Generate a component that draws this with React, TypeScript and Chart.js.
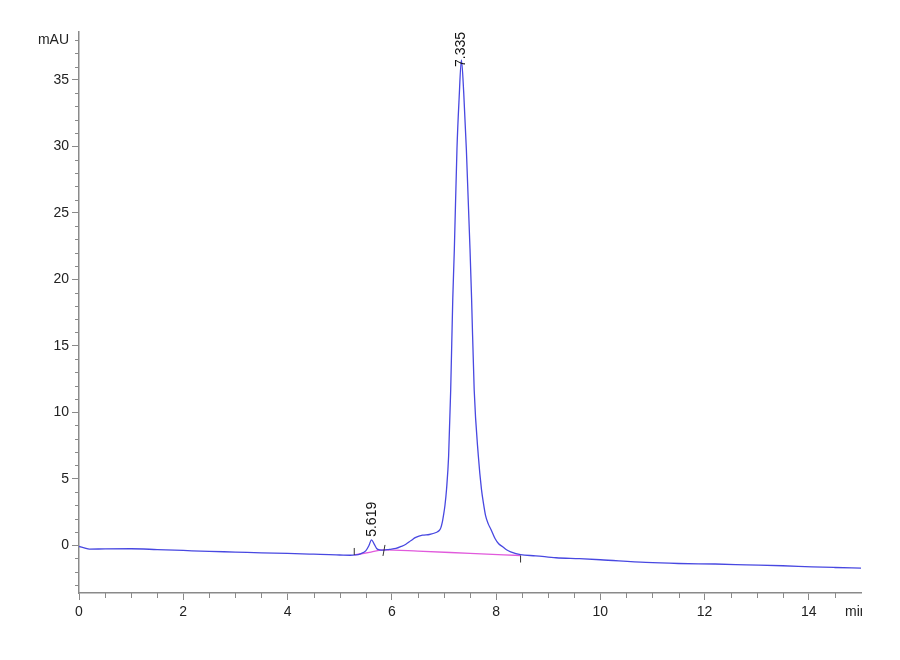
import React, { useEffect, useRef } from "react";
import { Chart, registerables } from "chart.js";

Chart.register(...registerables);

// chromatogram trace (min, mAU)
const traceTimes = [
  0, 0.1, 0.2, 0.5, 1.0, 1.5, 2.0, 2.5, 3.0, 3.5, 4.0, 4.5, 4.8, 5.0, 5.2, 5.3,
  5.4, 5.5, 5.56, 5.61, 5.66, 5.71, 5.76, 5.85, 5.95, 6.08, 6.18, 6.27, 6.37,
  6.46, 6.59, 6.72, 6.85, 6.91, 6.94, 6.97, 6.99, 7.02, 7.05, 7.09, 7.13, 7.17,
  7.2, 7.25, 7.29, 7.335, 7.38, 7.43, 7.5, 7.53, 7.58, 7.66, 7.72, 7.76, 7.8,
  7.85, 7.9, 7.98, 8.05, 8.12, 8.2, 8.28, 8.47, 8.76, 9.15, 9.6, 10.0, 10.87,
  11.5, 12.2, 12.8, 13.5, 14.06, 14.5, 15.0,
];
const traceValues = [
  -0.1, -0.2, -0.3, -0.28, -0.27, -0.33, -0.4, -0.47, -0.52, -0.58, -0.62,
  -0.68, -0.72, -0.74, -0.76, -0.74, -0.65, -0.43, -0.05, 0.4, 0.1, -0.25,
  -0.35, -0.38, -0.32, -0.25, -0.1, 0.07, 0.35, 0.58, 0.75, 0.8, 0.95, 1.1,
  1.3, 1.75, 2.2, 3.0, 4.2, 6.7, 11.7, 18.6, 22.3, 29.8, 33.5, 36.5, 34.0,
  29.8, 22.3, 18.6, 11.7, 6.7, 4.2, 3.1, 2.2, 1.6, 1.2, 0.5, 0.1, -0.1, -0.35,
  -0.5, -0.72, -0.8, -0.95, -1.02, -1.1, -1.3, -1.38, -1.42, -1.48, -1.55,
  -1.63, -1.68, -1.73,
];

// integration baseline
const baseTimes = [5.28, 5.6, 5.85, 6.5, 7.5, 8.47];
const baseValues = [-0.74, -0.52, -0.36, -0.45, -0.62, -0.78];

// peak labels
const peakTimes = [5.619, 7.335];
const peakLabels = ["5.619", "7.335"];

// integration event marks
const markTimes = [5.28, 5.85, 8.47];

const xTicks = [
  0, 0.5, 1, 1.5, 2, 2.5, 3, 3.5, 4, 4.5, 5, 5.5, 6, 6.5, 7, 7.5, 8, 8.5, 9,
  9.5, 10, 10.5, 11, 11.5, 12, 12.5, 13, 13.5, 14, 14.5,
];
const xLabelTicks = [0, 2, 4, 6, 8, 10, 12, 14];
const yTicks = [
  -3, -2, -1, 0, 1, 2, 3, 4, 5, 6, 7, 8, 9, 10, 11, 12, 13, 14, 15, 16, 17, 18,
  19, 20, 21, 22, 23, 24, 25, 26, 27, 28, 29, 30, 31, 32, 33, 34, 35, 36, 37,
  38,
];
const yLabelTicks = [0, 5, 10, 15, 20, 25, 30, 35];
const yUnitTick = 38;

const FONT = "'Liberation Sans', Arial, sans-serif";
const AXIS = "#8a8a8a";

const interpBase = (t: number) => {
  for (let i = 0; i < baseTimes.length - 1; i++) {
    if (t >= baseTimes[i] && t <= baseTimes[i + 1]) {
      const f = (t - baseTimes[i]) / (baseTimes[i + 1] - baseTimes[i]);
      return baseValues[i] + f * (baseValues[i + 1] - baseValues[i]);
    }
  }
  return baseValues[baseValues.length - 1];
};

// short ticks for the unlabelled positions
const minorTicks = {
  id: "minorTicks",
  afterDraw(chart: any) {
    const { ctx, scales } = chart;
    const xs = scales.x;
    const ys = scales.y;
    ctx.save();
    ctx.strokeStyle = AXIS;
    ctx.lineWidth = 1;
    xTicks
      .filter((v) => !xLabelTicks.includes(v))
      .forEach((v) => {
        const px = Math.round(xs.getPixelForValue(v)) + 0.5;
        ctx.beginPath();
        ctx.moveTo(px, xs.top);
        ctx.lineTo(px, xs.top + 5);
        ctx.stroke();
      });
    yTicks
      .filter((v) => !yLabelTicks.includes(v))
      .forEach((v) => {
        const py = Math.round(ys.getPixelForValue(v)) + 0.5;
        ctx.beginPath();
        ctx.moveTo(ys.right - 4, py);
        ctx.lineTo(ys.right, py);
        ctx.stroke();
      });
    ctx.restore();
  },
};

const annotate = {
  id: "annotate",
  afterDatasetsDraw(chart: any) {
    const { ctx, scales, chartArea } = chart;
    const xs = scales.x;
    const ys = scales.y;
    ctx.save();
    ctx.fillStyle = "#111";
    ctx.font = `14px ${FONT}`;

    // rotated retention times
    const gaps = [3, -7];
    peakTimes.forEach((t, i) => {
      let apex = -Infinity;
      traceTimes.forEach((tt, j) => {
        if (Math.abs(tt - t) < 0.06) apex = Math.max(apex, traceValues[j]);
      });
      const px = xs.getPixelForValue(t);
      const py = ys.getPixelForValue(apex) - gaps[i];
      ctx.save();
      ctx.translate(px, py);
      ctx.rotate(-Math.PI / 2);
      ctx.textAlign = "left";
      ctx.textBaseline = "middle";
      ctx.fillText(peakLabels[i], 0, 0);
      ctx.restore();
    });

    // event marks
    ctx.strokeStyle = "#333";
    ctx.lineWidth = 1;
    const spans = [
      [-7, 0],
      [-5, 6],
      [0, 7],
    ];
    markTimes.forEach((t, i) => {
      const px = xs.getPixelForValue(t);
      const py = ys.getPixelForValue(interpBase(t));
      ctx.beginPath();
      ctx.moveTo(px + (i === 1 ? 1 : 0), py + spans[i][0]);
      ctx.lineTo(px - (i === 1 ? 1 : 0), py + spans[i][1]);
      ctx.stroke();
    });

    // unit on x axis, cut at the axis end
    ctx.beginPath();
    ctx.rect(0, 0, chartArea.right + 1, chart.height);
    ctx.clip();
    ctx.fillStyle = "#222";
    ctx.textAlign = "left";
    ctx.textBaseline = "top";
    ctx.fillText("min", chartArea.right - 16, chartArea.bottom + 12);
    ctx.restore();
  },
};

const App: React.FC = () => {
  const canvasRef = useRef<HTMLCanvasElement>(null);
  const chartRef = useRef<Chart | null>(null);

  useEffect(() => {
    document.body.style.margin = "0";
    if (!canvasRef.current) return;
    const ctx = canvasRef.current.getContext("2d");
    if (!ctx) return;

    chartRef.current = new Chart(ctx, {
      type: "line",
      data: {
        datasets: [
          {
            label: "signal",
            data: traceTimes.map((t, i) => ({ x: t, y: traceValues[i] })),
            borderColor: "rgb(72, 72, 225)",
            borderWidth: 1.3,
            pointRadius: 0,
            cubicInterpolationMode: "monotone",
          },
          {
            label: "baseline",
            data: baseTimes.map((t, i) => ({ x: t, y: baseValues[i] })),
            borderColor: "rgb(225, 90, 220)",
            borderWidth: 1.3,
            pointRadius: 0,
            cubicInterpolationMode: "monotone",
          },
        ],
      },
      options: {
        responsive: false,
        animation: false,
        layout: { padding: { top: 32, right: 39, left: 0, bottom: 0 } },
        plugins: {
          legend: { display: false },
          tooltip: { enabled: false },
        },
        scales: {
          x: {
            type: "linear",
            min: 0,
            max: 15,
            afterBuildTicks: (s: any) => {
              s.ticks = xTicks.map((v) => ({ value: v }));
            },
            afterFit: (s: any) => {
              s.height = 67;
            },
            ticks: {
              autoSkip: false,
              maxRotation: 0,
              padding: 4,
              color: "#222",
              font: { family: FONT, size: 14 },
              callback: (v: any) => (xLabelTicks.includes(v) ? String(v) : ""),
            },
            grid: {
              drawOnChartArea: false,
              drawTicks: true,
              tickLength: 7,
              tickColor: (c: any) =>
                xLabelTicks.includes(c.tick?.value) ? AXIS : "rgba(0,0,0,0)",
            },
            border: { color: AXIS, width: 1.5 },
          },
          y: {
            type: "linear",
            min: -3.6,
            max: 38.6,
            afterBuildTicks: (s: any) => {
              s.ticks = yTicks.map((v) => ({ value: v }));
            },
            afterFit: (s: any) => {
              s.width = 79;
            },
            ticks: {
              autoSkip: false,
              padding: 3,
              color: "#222",
              font: { family: FONT, size: 14 },
              callback: (v: any) =>
                v === yUnitTick
                  ? "mAU"
                  : yLabelTicks.includes(v)
                  ? String(v)
                  : "",
            },
            grid: {
              drawOnChartArea: false,
              drawTicks: true,
              tickLength: 7,
              tickColor: (c: any) =>
                yLabelTicks.includes(c.tick?.value) ? AXIS : "rgba(0,0,0,0)",
            },
            border: { color: AXIS, width: 1.5 },
          },
        },
      },
      plugins: [annotate, minorTicks],
    });

    return () => {
      if (chartRef.current) {
        chartRef.current.destroy();
        chartRef.current = null;
      }
    };
  }, []);

  return (
    <canvas
      ref={canvasRef}
      width={900}
      height={660}
      style={{ display: "block", width: 900, height: 660 }}
    />
  );
};

export default App;
